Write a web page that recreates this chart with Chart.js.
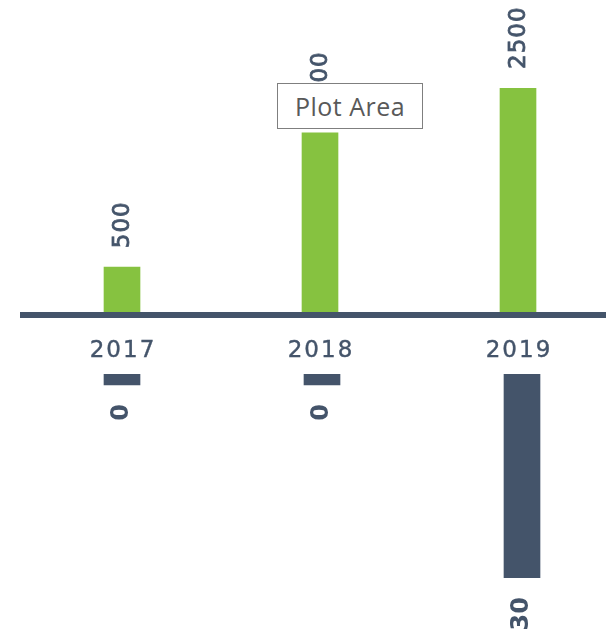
<!DOCTYPE html>
<html>
<head>
<meta charset="utf-8">
<script src="https://cdn.jsdelivr.net/npm/chart.js@4"></script>
<style>
  html, body { margin: 0; padding: 0; background: #fff; overflow: hidden; width: 606px; height: 638px; }
  #topWrap { position: absolute; left: 0; top: 0; width: 620px; height: 370px; }
  #botWrap { position: absolute; left: 0; top: 370px; width: 625px; height: 268px; }
  .tip {
    position: absolute; left: 277px; top: 83px; width: 144px; height: 44px;
    border: 1.5px solid #7f7f7f; background: #fff;
    font-family: "Open Sans", sans-serif; font-size: 25px; letter-spacing: 0.5px; color: #595959;
    line-height: 44px; text-align: center; z-index: 5;
  }
</style>
</head>
<body>
<div id="topWrap"><canvas id="topChart"></canvas></div>
<div id="botWrap"><canvas id="botChart"></canvas></div>
<div class="tip">Plot Area</div>
<script>
const years = ['2017', '2018', '2019'];
const topValues = [500, 2000, 2500];
const bottomValues = [0, 0, 30];

const slate = '#44546a';
const green = '#86c240';

// rotated value labels + axis line + year labels, drawn after the bars
const decorTop = {
  id: 'decorTop',
  afterDatasetsDraw(chart) {
    const ctx = chart.ctx;
    const area = chart.chartArea;
    const meta = chart.getDatasetMeta(0);
    ctx.save();
    // axis line
    ctx.fillStyle = slate;
    ctx.fillRect(area.left - 3, area.bottom, chart.width, 6);
    // year labels
    ctx.font = '23px "DejaVu Sans"';
    ctx.letterSpacing = '2px';
    ctx.fillStyle = slate;
    ctx.strokeStyle = slate;
    ctx.lineWidth = 0.4;
    ctx.textAlign = 'center';
    ctx.textBaseline = 'middle';
    const xs = chart.scales.x;
    years.forEach((y, i) => {
      ctx.fillText(y, xs.getPixelForValue(i) + 1, area.bottom + 39);
      ctx.strokeText(y, xs.getPixelForValue(i) + 1, area.bottom + 39);
    });
    ctx.letterSpacing = '1px';
    // values
    ctx.font = '23px "DejaVu Sans"';
    ctx.lineWidth = 0.8;
    meta.data.forEach((bar, i) => {
      ctx.save();
      ctx.translate(bar.x + 1, bar.y - 19);
      ctx.rotate(-Math.PI / 2);
      ctx.textAlign = 'left';
      ctx.textBaseline = 'middle';
      ctx.fillText(String(topValues[i]), 0, 0);
      ctx.strokeText(String(topValues[i]), 0, 0);
      ctx.restore();
    });
    ctx.restore();
  }
};

const decorBot = {
  id: 'decorBot',
  afterDatasetsDraw(chart) {
    const ctx = chart.ctx;
    const meta = chart.getDatasetMeta(0);
    ctx.save();
    ctx.fillStyle = slate;
    ctx.font = 'bold 24px "DejaVu Sans"';
    meta.data.forEach((bar, i) => {
      const bottom = Math.max(bar.y, bar.base);
      ctx.save();
      ctx.translate(bar.x, bottom + 19);
      ctx.rotate(-Math.PI / 2);
      ctx.textAlign = 'right';
      ctx.textBaseline = 'middle';
      ctx.fillText(String(bottomValues[i]), 0, 0);
      ctx.restore();
    });
    ctx.restore();
  }
};

const topChart = new Chart(document.getElementById('topChart'), {
  type: 'bar',
  data: {
    labels: years,
    datasets: [{
      data: topValues,
      backgroundColor: green,
      barThickness: 36
    }]
  },
  options: {
    responsive: true,
    maintainAspectRatio: false,
    animation: false,
    layout: { padding: { left: 23, right: 3, top: 88, bottom: 58 } },
    plugins: { legend: { display: false }, tooltip: { enabled: false } },
    scales: {
      x: { display: false },
      y: { display: false, min: 0, max: 2500 }
    }
  },
  plugins: [decorTop]
});

// bottom series hangs below the axis, so it is plotted downward
const botChart = new Chart(document.getElementById('botChart'), {
  type: 'bar',
  data: {
    labels: years,
    datasets: [{
      data: bottomValues.map(v => -v),
      backgroundColor: slate,
      barThickness: 36,
      minBarLength: 11
    }]
  },
  options: {
    responsive: true,
    maintainAspectRatio: false,
    animation: false,
    layout: { padding: { left: 22, right: 3, top: 4, bottom: 60 } },
    plugins: { legend: { display: false }, tooltip: { enabled: false } },
    scales: {
      x: { display: false },
      y: { display: false, min: -30, max: 0 }
    }
  },
  plugins: [decorBot]
});
</script>
</body>
</html>
